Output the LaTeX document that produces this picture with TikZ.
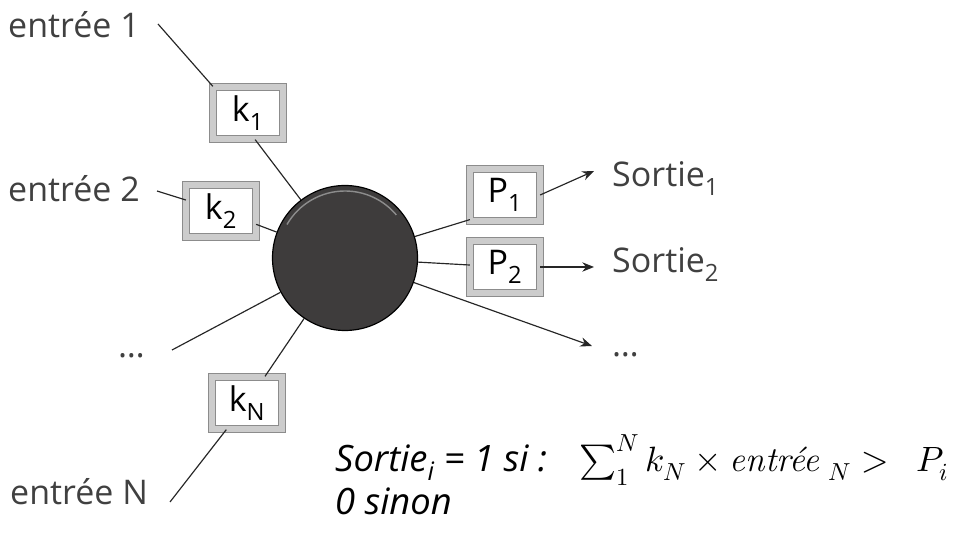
\documentclass[tikz,border=0pt]{standalone}
\usepackage{fontspec}
\setmainfont{Open Sans}
\usepackage{amsmath}
\usepackage{unicode-math}
\setmathfont{Latin Modern Math}
\newfontfamily\lmfont{Latin Modern Roman}
\usetikzlibrary{arrows.meta}
\definecolor{txtgray}{HTML}{404040}
\definecolor{hubgray}{HTML}{3E3C3C}

\begin{document}
\begin{tikzpicture}[x=0.03cm, y=-0.03cm,
  lbl/.style={inner sep=0pt, text=txtgray, font=\fontsize{29}{34}\selectfont},
  kbox/.style={draw=black!45, line width=0.8pt, double=black!20, double distance=5pt,
    fill=white, minimum width=2.08cm, minimum height=1.57cm, inner sep=0pt,
    font=\fontsize{29}{34}\selectfont},
  wire/.style={black!85, line width=1pt},
  arr/.style={wire, -{Stealth[length=10pt, width=8pt]}},
  rulefont/.style={inner sep=0pt, anchor=base west, font=\fontsize{31}{36}\selectfont\itshape}]
\useasboundingbox (0,0) rectangle (971,545);
% neurone
\node[circle, draw=black, line width=1pt, fill=hubgray, minimum size=4.35cm, inner sep=0pt] (hub) at (345,258) {};
\draw[black!45, line width=1.2pt] (hub.center) ++(-150:67) arc (-150:-40:67);
% poids
\node[kbox] (k1) at (248,113) {k\textsubscript{1}};
\node[kbox] (k2) at (221,211) {k\textsubscript{2}};
\node[kbox] (kN) at (247,403) {k\textsubscript{N}};
\node[kbox] (P1) at (505,195) {P\textsubscript{1}};
\node[kbox] (P2) at (505,267) {P\textsubscript{2}};
% entrees
\node[lbl, anchor=base west] (in1) at (8,38) {entrée 1};
\node[lbl, anchor=base west] (in2) at (8,202) {entrée 2};
\node[lbl, anchor=base west] (inD) at (118,358) {\ldots};
\node[lbl, anchor=base west] (inN) at (10,505) {entrée N};
\coordinate (c1) at (158,24);
\coordinate (c2) at (157,191);
\coordinate (cD) at (172,350);
\coordinate (cN) at (170,502);
\draw[wire] (c1) -- (k1.north west);
\draw[wire] (k1.-75) -- (hub);
\draw[wire] (c2) -- (k2);
\draw[wire] (k2) -- (hub);
\draw[wire] (cD) -- (hub);
\draw[wire] (cN) -- (kN);
\draw[wire] (kN) -- (hub);
% sorties
\coordinate (s1) at (594,171);
\coordinate (s2) at (594,267);
\coordinate (sD) at (592,346);
\draw[wire] (hub) -- (P1.215);
\draw[arr] (P1.east) -- (s1);
\draw[wire] (hub) -- (P2);
\draw[arr] (P2) -- (s2);
\draw[arr] (hub) -- (sD);
\node[lbl, anchor=base west] (out1) at (612,187) {Sortie\textsubscript{1}};
\node[lbl, anchor=base west] (out2) at (612,273) {Sortie\textsubscript{2}};
\node[lbl, anchor=base west] (outD) at (612,357) {\ldots};
% regle
\node[rulefont] (rule) at (335,472)
  {Sortie\textsubscript{i} = 1 si :\hspace{0.9em}{\fontsize{30}{36}\selectfont$\sum_1^N k_N \times \text{\lmfont\itshape entrée}\;{}_N >\ \ P_i$}};
\node[rulefont] (rule2) at (335,515) {0 sinon};
\end{tikzpicture}
\end{document}
